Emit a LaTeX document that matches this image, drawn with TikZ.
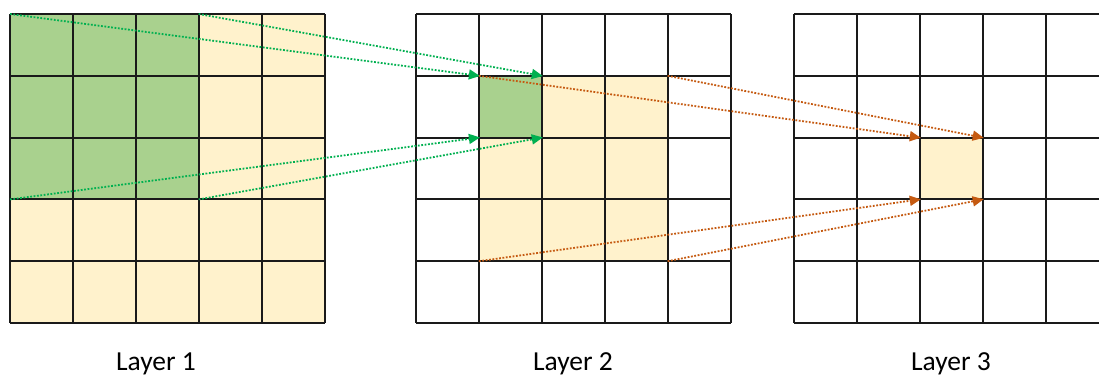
\documentclass[tikz,border=0pt]{standalone}
\usepackage{fontspec}
\setmainfont{Carlito}
\usetikzlibrary{arrows.meta}
\definecolor{cgreen}{HTML}{A9D18E}
\definecolor{cyellow}{HTML}{FFF2CC}
\definecolor{agreen}{HTML}{00B050}
\definecolor{aorange}{HTML}{C55A11}
\definecolor{gline}{HTML}{1A1A1A}
\tikzset{
  gridline/.style={draw=gline, line width=2pt},
  greenarrow/.style={draw=agreen, line width=1.8pt, dash pattern=on 1.8pt off 1.6pt, -{Triangle[length=11pt,width=10pt]}, shorten >=-1pt},
  orangearrow/.style={draw=aorange, line width=1.8pt, dash pattern=on 1.8pt off 1.6pt, -{Triangle[length=11pt,width=10pt]}, shorten >=-1pt},
  layerlabel/.style={font=\fontsize{27.5}{31}\selectfont, text=black, inner sep=0pt, anchor=base}
}
\begin{document}
\begin{tikzpicture}[x=1pt,y=-1pt]
\useasboundingbox (0,0) rectangle (1099,375);
\clip (0,0) rectangle (1099,375);
% cell size
\def\cw{62.9}
\def\ch{61.8}
% ---- Layer 1 ----
\fill[cyellow] (10,14) rectangle ({10+5*\cw},{14+5*\ch});
\fill[cgreen] (10,14) rectangle ({10+3*\cw},{14+3*\ch});
\foreach \i in {0,...,5} {
  \draw[gridline] ({10+\i*\cw},14) -- ({10+\i*\cw},{14+5*\ch});
  \draw[gridline] (10,{14+\i*\ch}) -- ({10+5*\cw},{14+\i*\ch});
}
% ---- Layer 2 ----
\fill[cyellow] ({416+\cw},{14+\ch}) rectangle ({416+4*\cw},{14+4*\ch});
\fill[cgreen] ({416+\cw},{14+\ch}) rectangle ({416+2*\cw},{14+2*\ch});
\foreach \i in {0,...,5} {
  \draw[gridline] ({416+\i*\cw},14) -- ({416+\i*\cw},{14+5*\ch});
  \draw[gridline] (416,{14+\i*\ch}) -- ({416+5*\cw},{14+\i*\ch});
}
% ---- Layer 3 ----
\fill[cyellow] ({794+2*\cw},{14+2*\ch}) rectangle ({794+3*\cw},{14+3*\ch});
\foreach \i in {0,...,5} {
  \draw[gridline] ({794+\i*\cw},14) -- ({794+\i*\cw},{14+5*\ch});
  \draw[gridline] (794,{14+\i*\ch}) -- ({794+5*\cw},{14+\i*\ch});
}
% ---- named corners ----
\coordinate (a1) at (10,14);
\coordinate (a2) at ({10+3*\cw},14);
\coordinate (a3) at (10,{14+3*\ch});
\coordinate (a4) at ({10+3*\cw},{14+3*\ch});
\coordinate (b1) at ({416+\cw},{14+\ch});
\coordinate (b2) at ({416+2*\cw},{14+\ch});
\coordinate (b3) at ({416+\cw},{14+2*\ch});
\coordinate (b4) at ({416+2*\cw},{14+2*\ch});
\coordinate (c1) at ({416+\cw},{14+\ch});
\coordinate (c2) at ({416+4*\cw},{14+\ch});
\coordinate (c3) at ({416+\cw},{14+4*\ch});
\coordinate (c4) at ({416+4*\cw},{14+4*\ch});
\coordinate (d1) at ({794+2*\cw},{14+2*\ch});
\coordinate (d2) at ({794+3*\cw},{14+2*\ch});
\coordinate (d3) at ({794+2*\cw},{14+3*\ch});
\coordinate (d4) at ({794+3*\cw},{14+3*\ch});
% ---- arrows ----
\draw[greenarrow] (a1) -- (b1);
\draw[greenarrow] (a2) -- (b2);
\draw[greenarrow] (a3) -- (b3);
\draw[greenarrow] (a4) -- (b4);
\draw[orangearrow] (c1) -- (d1);
\draw[orangearrow] (c2) -- (d2);
\draw[orangearrow] (c3) -- (d3);
\draw[orangearrow] (c4) -- (d4);
% ---- labels ----
\node[layerlabel] (l1) at (156,370) {Layer 1};
\node[layerlabel] (l2) at (573,370) {Layer 2};
\node[layerlabel] (l3) at (951,370) {Layer 3};
\end{tikzpicture}
\end{document}
